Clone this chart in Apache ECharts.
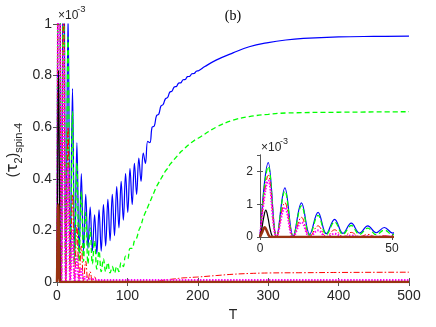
<!DOCTYPE html>
<html>
<head>
<meta charset="utf-8">
<script src="https://cdn.jsdelivr.net/npm/echarts@6/dist/echarts.min.js"></script>
<style>html,body{margin:0;padding:0;background:#fff;}#c{width:436px;height:327px;}</style>
</head>
<body>
<div id="c"></div>
<script>
// T values at successive half-periods (troughs / peaks of oscillation)
const tOsc = [0, 3.14, 6.28, 9.42, 12.57, 15.71, 18.85, 21.99, 25.13, 28.27,
  31.42, 34.56, 37.70, 40.84, 43.98, 47.12, 50.27, 53.41, 56.55, 59.69,
  62.83, 65.97, 69.12, 72.26, 75.40, 78.54, 81.68, 84.82, 87.96, 91.11,
  94.25, 97.39, 100.53, 103.67, 106.81, 109.96, 113.10, 116.24, 119.38, 122.52,
  125.66, 128.81, 131.95, 135.09, 138.23, 141.37, 144.51, 147.65, 150.80, 153.94,
  157.08, 160.22, 163.36, 166.50, 169.65, 172.79, 175.93, 179.07, 182.21, 185.35,
  188.50, 191.64, 194.78, 197.92, 201.06];

const blueOsc = [0, 2.27, 0.01, 1.50, 0.03, 1.04, 0.08, 0.75, 0.10, 0.54,
  0.11, 0.42, 0.12, 0.34, 0.13, 0.29, 0.12, 0.26, 0.11, 0.28,
  0.12, 0.30, 0.14, 0.32, 0.16, 0.34, 0.18, 0.37, 0.21, 0.39,
  0.24, 0.42, 0.27, 0.44, 0.30, 0.46, 0.34, 0.48, 0.39, 0.50,
  0.46, 0.545, 0.54, 0.60, 0.605, 0.645, 0.65, 0.682, 0.688, 0.71,
  0.715, 0.736, 0.74, 0.756, 0.758, 0.771, 0.772, 0.784, 0.785, 0.796,
  0.797, 0.807, 0.808, 0.817, 0.819];
const blueTail = [[210, 0.835], [226, 0.86], [250, 0.888], [273, 0.912], [300, 0.928],
  [325, 0.938], [350, 0.944], [400, 0.950], [450, 0.952], [500, 0.953]];

const greenOsc = [0, 2.15, 0.0, 1.40, 0.02, 0.95, 0.05, 0.66, 0.07, 0.46,
  0.08, 0.35, 0.08, 0.27, 0.07, 0.21, 0.07, 0.16, 0.05, 0.12,
  0.04, 0.09, 0.04, 0.075, 0.035, 0.06, 0.035, 0.06, 0.04, 0.075,
  0.06, 0.10, 0.09, 0.13, 0.13, 0.16, 0.17, 0.20, 0.22, 0.25,
  0.27, 0.29, 0.31, 0.33, 0.35, 0.37, 0.385, 0.40, 0.415, 0.43,
  0.44, 0.455, 0.465, 0.475, 0.485, 0.495, 0.505, 0.512, 0.52, 0.528,
  0.535, 0.542, 0.548, 0.554, 0.558];
const greenTail = [[226, 0.60], [250, 0.627], [273, 0.641], [300, 0.65], [325, 0.655],
  [400, 0.658], [500, 0.66]];

const redOsc = [0, 1.88, 0, 1.05, 0, 0.60, 0.01, 0.34, 0.01, 0.22,
  0.01, 0.14, 0.005, 0.08, 0.003, 0.04, 0.002, 0.02, 0.001, 0.008,
  0.001, 0.003, 0.001, 0.001, 0.001, 0.001, 0.001, 0.001, 0.001, 0.001,
  0.001, 0.001, 0.001, 0.001, 0.001, 0.001, 0.001, 0.001, 0.001, 0.001,
  0.001, 0.001, 0.001, 0.001, 0.001, 0.002, 0.003, 0.005, 0.007, 0.008,
  0.009, 0.010, 0.011, 0.012, 0.013, 0.014, 0.015, 0.016, 0.0165, 0.017,
  0.0175, 0.018, 0.0185, 0.019, 0.0195];
const redTail = [[226, 0.025], [250, 0.030], [273, 0.033], [300, 0.035], [350, 0.036],
  [400, 0.037], [500, 0.038]];

const magentaOsc = [0, 1.72, 0, 0.90, 0, 0.45, 0, 0.20, 0, 0.10,
  0, 0.05, 0.003, 0.02, 0.006, 0.012];
const magentaTail = [[60, 0.008], [500, 0.008]];

const blackData = [[0, 0], [0.7, 0.25], [1.4, 0.6], [2.2, 0.82], [3.0, 0.6], [3.8, 0.25],
  [4.6, 0.03], [5.5, 0], [500, 0]];
const brownData = [[0, 0], [0.7, 0.12], [1.8, 0.30], [2.6, 0.18], [3.3, 0.05], [4.0, 0], [500, 0]];

const xTicksMain = { min: 0, max: 500, interval: 100 };
const yTicksMain = { min: 0, max: 1, interval: 0.2 };
const xTicksInset = { min: 0, max: 50, interval: 50 };
const yTicksInset = { min: 0, max: 2.5, interval: 1 };

function zipOsc(vals, tail) {
  return vals.map((v, i) => [tOsc[i], v]).concat(tail);
}
const seriesDefs = [
  { name: 'blue', data: zipOsc(blueOsc, blueTail), color: '#0000ff', type: 'solid', width: 1.2 },
  { name: 'green', data: zipOsc(greenOsc, greenTail), color: '#00ff00', type: [5, 3], width: 1.3 },
  { name: 'red', data: zipOsc(redOsc, redTail), color: '#ff0000', type: [6, 2, 1.5, 2], width: 1 },
  { name: 'magenta', data: zipOsc(magentaOsc, magentaTail), color: '#ff00ff', type: [1.5, 1.5], width: 2 },
  { name: 'black', data: blackData, color: '#000000', type: 'solid', width: 1.2 },
  { name: 'brown', data: brownData, color: '#993311', type: 'solid', width: 2.5 }
];

const axisCol = '#555555';
const labCol = '#262626';
const fontFam = 'Liberation Sans, Arial, sans-serif';

function xa(grid, ticks, pos, show, fs, tl, extra) {
  return Object.assign({
    type: 'value', gridIndex: grid, position: pos, min: ticks.min, max: ticks.max, interval: ticks.interval,
    axisLine: { show: true, lineStyle: { color: axisCol, width: 1 } },
    axisTick: { show: true, inside: true, length: tl, lineStyle: { color: axisCol } },
    axisLabel: { show: show, color: labCol, fontSize: fs, fontFamily: fontFam, margin: 7 },
    splitLine: { show: false }
  }, extra || {});
}
function ya(grid, ticks, pos, show, fs, tl, extra) {
  return Object.assign({
    type: 'value', gridIndex: grid, position: pos, min: ticks.min, max: ticks.max, interval: ticks.interval,
    axisLine: { show: true, lineStyle: { color: axisCol, width: 1 } },
    axisTick: { show: true, inside: true, length: tl, lineStyle: { color: axisCol } },
    axisLabel: { show: show, color: labCol, fontSize: fs, fontFamily: fontFam, margin: 5, showMaxLabel: true },
    splitLine: { show: false }
  }, extra || {});
}

const series = [];
seriesDefs.forEach(s => {
  [[0, 0], [2, 2]].forEach(([xi, yi]) => {
    series.push({
      type: 'line', name: s.name, xAxisIndex: xi, yAxisIndex: yi, data: s.data,
      showSymbol: false, smooth: 0.4, clip: true,
      lineStyle: { color: s.color, width: s.width, type: s.type },
      itemStyle: { color: s.color }
    });
  });
});

const chart = echarts.init(document.getElementById('c'), null, { renderer: 'canvas' });
chart.setOption({
  animation: false,
  backgroundColor: '#fff',
  grid: [
    { left: 57, right: 27, top: 24, bottom: 45, show: false },
    { left: 260, right: 44, top: 155, bottom: 90, show: true, backgroundColor: '#fff', borderWidth: 0 }
  ],
  xAxis: [
    xa(0, xTicksMain, 'bottom', true, 14, 4, { name: 'T', nameLocation: 'middle', nameGap: 26,
      nameTextStyle: { color: labCol, fontSize: 14, fontFamily: fontFam } }),
    xa(0, xTicksMain, 'top', false, 14, 4),
    xa(1, xTicksInset, 'bottom', true, 12, 3, { axisLabel: { show: true, color: labCol, fontSize: 12, fontFamily: fontFam, margin: 6 } }),
    xa(1, xTicksInset, 'top', false, 12, 3)
  ],
  yAxis: [
    ya(0, yTicksMain, 'left', true, 14, 4),
    ya(0, yTicksMain, 'right', false, 14, 4),
    ya(1, yTicksInset, 'left', true, 12, 3, { axisLabel: { show: true, color: labCol, fontSize: 12, fontFamily: fontFam, margin: 7, showMaxLabel: false } }),
    ya(1, yTicksInset, 'right', false, 12, 3)
  ],
  graphic: [
    { type: 'text', x: 233, y: 16, style: { text: '(b)', align: 'center', verticalAlign: 'middle',
      font: '14px "Liberation Serif", "DejaVu Serif", serif', fill: '#000' } },
    { type: 'text', x: 58, y: 16, style: { text: '×10', align: 'left', verticalAlign: 'middle',
      font: '12px "Liberation Sans", Arial, sans-serif', fill: labCol } },
    { type: 'text', x: 77, y: 9.5, style: { text: '-3', align: 'left', verticalAlign: 'middle',
      font: '9.5px "Liberation Sans", Arial, sans-serif', fill: labCol } },
    { type: 'text', x: 261, y: 148, style: { text: '×10', align: 'left', verticalAlign: 'middle',
      font: '12px "Liberation Sans", Arial, sans-serif', fill: labCol } },
    { type: 'text', x: 280, y: 142, style: { text: '-3', align: 'left', verticalAlign: 'middle',
      font: '9px "Liberation Sans", Arial, sans-serif', fill: labCol } },
    { type: 'text', x: 13, y: 150, rotation: Math.PI / 2,
      style: { text: '({t|τ}{s|2}){s|spin-4}', align: 'center', verticalAlign: 'middle', fill: labCol,
        font: '14px "Liberation Sans", Arial, sans-serif',
        rich: {
          t: { fontSize: 15, fontFamily: 'DejaVu Sans', fill: labCol, lineHeight: 22, verticalAlign: 'middle' },
          s: { fontSize: 11, fontFamily: 'Liberation Sans', fill: labCol, lineHeight: 12, verticalAlign: 'bottom' }
        } } }
  ],
  series: series
});
</script>
</body>
</html>
